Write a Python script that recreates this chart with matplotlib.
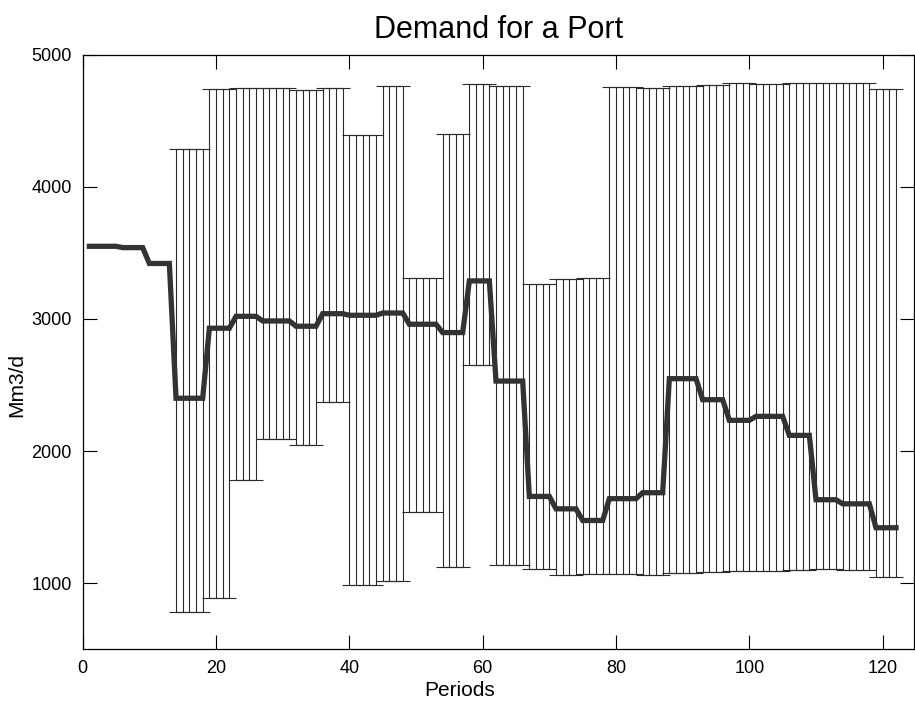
import numpy as np
import matplotlib
matplotlib.use("Agg")
import matplotlib.pyplot as plt

plt.rcParams['font.family'] = ['Liberation Sans', 'DejaVu Sans']

periods = list(range(1, 123))

demand = [3550, 3550, 3550, 3550, 3550,
          3540, 3540, 3540, 3540,
          3420, 3420, 3420, 3420,
          2400, 2400, 2400, 2400, 2400,
          2930, 2930, 2930, 2930,
          3020, 3020, 3020, 3020,
          2985, 2985, 2985, 2985, 2985,
          2945, 2945, 2945, 2945,
          3040, 3040, 3040, 3040,
          3028, 3028, 3028, 3028, 3028,
          3045, 3045, 3045, 3045,
          2960, 2960, 2960, 2960, 2960,
          2897, 2897, 2897, 2897,
          3288, 3288, 3288, 3288,
          2530, 2530, 2530, 2530, 2530,
          1657, 1657, 1657, 1657,
          1563, 1563, 1563, 1563,
          1475, 1475, 1475, 1475,
          1640, 1640, 1640, 1640, 1640,
          1685, 1685, 1685, 1685,
          2548, 2548, 2548, 2548, 2548,
          2389, 2389, 2389, 2389,
          2233, 2233, 2233, 2233,
          2263, 2263, 2263, 2263, 2263,
          2119, 2119, 2119, 2119,
          1632, 1632, 1632, 1632,
          1601, 1601, 1601, 1601, 1601,
          1420, 1420, 1420, 1420]

# upper / lower bounds for periods 14..122 (none for 1..13)
band_start = 14
upper = [4283, 4283, 4283, 4283, 4283,
         4740, 4740, 4740, 4740,
         4745, 4745, 4745, 4745,
         4748, 4748, 4748, 4748, 4748,
         4735, 4735, 4735, 4735,
         4748, 4748, 4748, 4748,
         4392, 4392, 4392, 4392, 4392,
         4765, 4765, 4765, 4765,
         3313, 3313, 3313, 3313, 3313,
         4402, 4402, 4402, 4402,
         4775, 4775, 4775, 4775,
         4765, 4765, 4765, 4765, 4765,
         3268, 3268, 3268, 3268,
         3300, 3300, 3300, 3300,
         3310, 3310, 3310, 3310,
         4758, 4758, 4758, 4758, 4758,
         4750, 4750, 4750, 4750,
         4763, 4763, 4763, 4763, 4763,
         4773, 4773, 4773, 4773,
         4783, 4783, 4783, 4783,
         4780, 4780, 4780, 4780, 4780,
         4783, 4783, 4783, 4783,
         4788, 4788, 4788, 4788,
         4785, 4785, 4785, 4785, 4785,
         4740, 4740, 4740, 4740]
lower = [783, 783, 783, 783, 783,
         885, 885, 885, 885,
         1785, 1785, 1785, 1785,
         2092, 2092, 2092, 2092, 2092,
         2049, 2049, 2049, 2049,
         2375, 2375, 2375, 2375,
         990, 990, 990, 990, 990,
         1017, 1017, 1017, 1017,
         1538, 1538, 1538, 1538, 1538,
         1126, 1126, 1126, 1126,
         2650, 2650, 2650, 2650,
         1140, 1140, 1140, 1140, 1140,
         1106, 1106, 1106, 1106,
         1060, 1060, 1060, 1060,
         1068, 1068, 1068, 1068,
         1068, 1068, 1068, 1068, 1068,
         1060, 1060, 1060, 1060,
         1075, 1075, 1075, 1075, 1075,
         1085, 1085, 1085, 1085,
         1096, 1096, 1096, 1096,
         1096, 1096, 1096, 1096, 1096,
         1100, 1100, 1100, 1100,
         1106, 1106, 1106, 1106,
         1100, 1100, 1100, 1100, 1100,
         1048, 1048, 1048, 1048]

x_ticks = [0, 20, 40, 60, 80, 100, 120]
y_ticks = [1000, 2000, 3000, 4000, 5000]

W, H = 915, 704
fig = plt.figure(figsize=(W / 100, H / 100), dpi=100)
ax = fig.add_axes([82.7 / W, 1 - 649.3 / H, (914 - 82.7) / W, (649.3 - 54.7) / H])

px = np.array(periods)
d = np.array(demand, dtype=float)
bx = px[band_start - 1:]
bd = d[band_start - 1:]
up = np.array(upper, dtype=float)
lo = np.array(lower, dtype=float)

ax.errorbar(bx, bd, yerr=[bd - lo, up - bd], fmt='none', ecolor='#2a2a2a',
            elinewidth=0.8, capsize=4.8, capthick=0.8, zorder=2)
ax.plot(px, d, color='#333333', linewidth=3.8, solid_joinstyle='miter', zorder=3)

ax.set_xlim(0, 124.7)
ax.set_ylim(500, 5000)
ax.set_xticks(x_ticks)
ax.set_yticks(y_ticks)
ax.tick_params(direction='in', length=10, width=0.8, top=True, right=True,
               labelsize=13, pad=8, colors='black')
for s in ax.spines.values():
    s.set_linewidth(0.9)

ax.set_title('Demand for a Port', fontsize=22, pad=12)
ax.set_xlabel('Periods', fontsize=15)
ax.set_ylabel('Mm3/d', fontsize=15)
ax.xaxis.set_label_coords(0.454, -0.053)
ax.yaxis.set_label_coords(-0.068, 0.445)

fig.savefig('out.png', dpi=100)
